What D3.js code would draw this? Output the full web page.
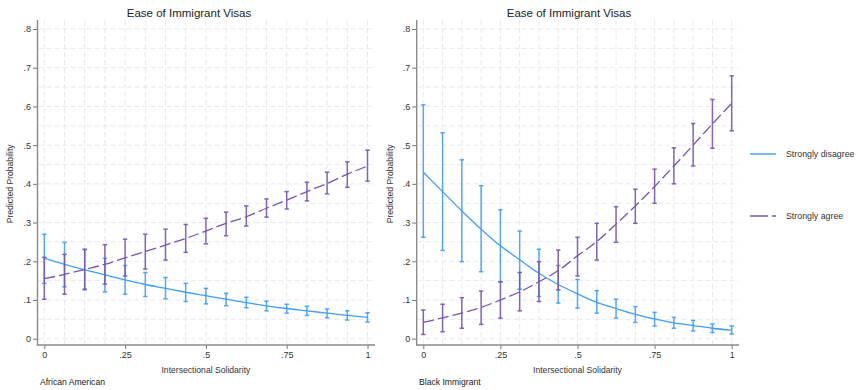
<!DOCTYPE html>
<html>
<head>
<meta charset="utf-8">
<script src="https://cdn.jsdelivr.net/npm/d3@7"></script>
<style>
  body { margin: 0; background: #fff; }
  svg { display: block; }
  text { font-family: "Liberation Sans", Arial, Helvetica, sans-serif; }
</style>
</head>
<body>
<svg id="chart" width="858" height="390"></svg>
<script>
// Evaluation points of intersectional solidarity
const solidarity = [0, 0.0625, 0.125, 0.1875, 0.25, 0.3125, 0.375, 0.4375, 0.5,
                    0.5625, 0.625, 0.6875, 0.75, 0.8125, 0.875, 0.9375, 1];

const xTicks = [0, 0.25, 0.5, 0.75, 1];
const xTickLabels = ["0", ".25", ".5", ".75", "1"];
const yTicks = [0, 0.1, 0.2, 0.3, 0.4, 0.5, 0.6, 0.7, 0.8];
const yTickLabels = ["0", ".1", ".2", ".3", ".4", ".5", ".6", ".7", ".8"];

const seriesNames = ["Strongly disagree", "Strongly agree"];
const groupNames = ["African American", "Black Immigrant"];
const chartTitle = "Ease of Immigrant Visas";
const xTitle = "Intersectional Solidarity";
const yTitle = "Predicted Probability";

// African American respondents
const aaDisagree   = [0.208, 0.192, 0.178, 0.165, 0.152, 0.140, 0.130, 0.120, 0.111, 0.102, 0.093, 0.085, 0.078, 0.072, 0.066, 0.060, 0.055];
const aaDisagreeLo = [0.143, 0.134, 0.126, 0.121, 0.115, 0.109, 0.103, 0.096, 0.090, 0.085, 0.080, 0.072, 0.066, 0.060, 0.054, 0.048, 0.043];
const aaDisagreeHi = [0.270, 0.249, 0.230, 0.208, 0.189, 0.171, 0.158, 0.143, 0.130, 0.117, 0.107, 0.097, 0.089, 0.084, 0.077, 0.072, 0.067];
const aaAgree      = [0.155, 0.166, 0.179, 0.192, 0.209, 0.225, 0.242, 0.259, 0.278, 0.298, 0.315, 0.337, 0.358, 0.380, 0.401, 0.425, 0.446];
const aaAgreeLo    = [0.102, 0.115, 0.128, 0.141, 0.162, 0.180, 0.203, 0.223, 0.245, 0.266, 0.291, 0.314, 0.335, 0.356, 0.374, 0.391, 0.407];
const aaAgreeHi    = [0.210, 0.218, 0.231, 0.243, 0.257, 0.270, 0.283, 0.295, 0.311, 0.327, 0.343, 0.361, 0.380, 0.404, 0.430, 0.457, 0.487];

// Black immigrant respondents
const biDisagree   = [0.430, 0.380, 0.330, 0.283, 0.240, 0.204, 0.169, 0.140, 0.116, 0.094, 0.078, 0.063, 0.051, 0.041, 0.034, 0.027, 0.022];
const biDisagreeLo = [0.262, 0.228, 0.199, 0.173, 0.147, 0.128, 0.109, 0.092, 0.079, 0.066, 0.053, 0.042, 0.033, 0.027, 0.020, 0.016, 0.012];
const biDisagreeHi = [0.604, 0.532, 0.462, 0.395, 0.333, 0.278, 0.231, 0.189, 0.153, 0.124, 0.102, 0.083, 0.068, 0.055, 0.047, 0.038, 0.033];
const biAgree      = [0.042, 0.054, 0.066, 0.081, 0.100, 0.121, 0.147, 0.176, 0.214, 0.251, 0.296, 0.343, 0.393, 0.446, 0.500, 0.555, 0.608];
const biAgreeLo    = [0.011, 0.018, 0.027, 0.037, 0.053, 0.072, 0.096, 0.126, 0.162, 0.203, 0.249, 0.298, 0.350, 0.400, 0.446, 0.492, 0.537];
const biAgreeHi    = [0.074, 0.089, 0.106, 0.123, 0.147, 0.171, 0.199, 0.229, 0.262, 0.298, 0.341, 0.386, 0.438, 0.493, 0.556, 0.618, 0.679];

const gridY = [0, 0.05, 0.1, 0.15, 0.2, 0.25, 0.3, 0.35, 0.4, 0.45, 0.5, 0.55, 0.6, 0.65, 0.7, 0.75, 0.8];

const colors = { disagree: "#3f9dff", agree: "#7655b0" };

function rows(est, lo, hi) {
  return solidarity.map((x, i) => ({ x, y: est[i], lo: lo[i], hi: hi[i] }));
}

const panels = [
  { group: groupNames[0], axisX: 37.5, x0: 44.3, x1: 367.5, right: 375, titleX: 189, yTitleX: 10, noteX: 40,
    series: [rows(aaDisagree, aaDisagreeLo, aaDisagreeHi), rows(aaAgree, aaAgreeLo, aaAgreeHi)] },
  { group: groupNames[1], axisX: 416.7, x0: 423.3, x1: 731.7, right: 739, titleX: 569, yTitleX: 390, noteX: 419,
    series: [rows(biDisagree, biDisagreeLo, biDisagreeHi), rows(biAgree, biAgreeLo, biAgreeHi)] }
];

const plotTop = 20, axisY = 345;
const y = d3.scaleLinear().domain([0, 0.8]).range([338.7, 29]);

const svg = d3.select("#chart");
svg.append("rect").attr("width", 858).attr("height", 390).attr("fill", "#fff");

panels.forEach(p => {
  const x = d3.scaleLinear().domain([0, 1]).range([p.x0, p.x1]);
  const g = svg.append("g");

  // dashed grid
  g.append("g").selectAll("line").data(gridY).join("line")
    .attr("x1", p.axisX + 1).attr("x2", p.right)
    .attr("y1", d => y(d)).attr("y2", d => y(d))
    .attr("stroke", "#e9e9e9").attr("stroke-width", 1).attr("stroke-dasharray", "5,3");
  g.append("g").selectAll("line").data(solidarity).join("line")
    .attr("x1", d => x(d)).attr("x2", d => x(d))
    .attr("y1", plotTop).attr("y2", axisY - 1)
    .attr("stroke", "#e9e9e9").attr("stroke-width", 1).attr("stroke-dasharray", "5,3");

  // axes
  const yAxis = d3.axisLeft(y).tickValues(yTicks).tickFormat((d, i) => yTickLabels[i])
    .tickSize(4.5).tickSizeOuter(0).tickPadding(2);
  const ya = g.append("g").attr("transform", `translate(${p.axisX},0)`).call(yAxis);
  ya.select(".domain").remove();
  ya.selectAll("line").attr("stroke", "#777").attr("stroke-width", 1);
  ya.selectAll("text").attr("font-size", 9).attr("fill", "#333").attr("font-family", null);

  const xAxis = d3.axisBottom(x).tickValues(xTicks).tickFormat((d, i) => xTickLabels[i])
    .tickSize(4).tickSizeOuter(0).tickPadding(3);
  const xa = g.append("g").attr("transform", `translate(0,${axisY})`).call(xAxis);
  xa.select(".domain").remove();
  xa.selectAll("line").attr("stroke", "#777").attr("stroke-width", 1);
  xa.selectAll("text").attr("font-size", 9).attr("fill", "#333").attr("font-family", null);

  g.append("line").attr("x1", p.axisX).attr("x2", p.axisX).attr("y1", plotTop).attr("y2", axisY + 0.6)
    .attr("stroke", "#8a8a8a").attr("stroke-width", 1.4);
  g.append("line").attr("x1", p.axisX - 0.6).attr("x2", p.right).attr("y1", axisY).attr("y2", axisY)
    .attr("stroke", "#8a8a8a").attr("stroke-width", 1.4);

  // series: confidence intervals with caps, then the line
  const keys = ["disagree", "agree"];
  p.series.forEach((data, si) => {
    const col = colors[keys[si]];
    const eb = g.append("g").attr("stroke", col).attr("stroke-width", 1.5).attr("stroke-opacity", 0.9);
    eb.selectAll(".v").data(data).join("line").attr("class", "v")
      .attr("x1", d => x(d.x)).attr("x2", d => x(d.x))
      .attr("y1", d => y(d.lo)).attr("y2", d => y(d.hi));
    eb.selectAll(".t").data(data).join("line").attr("class", "t")
      .attr("x1", d => x(d.x) - 2.2).attr("x2", d => x(d.x) + 2.2)
      .attr("y1", d => y(d.hi)).attr("y2", d => y(d.hi));
    eb.selectAll(".b").data(data).join("line").attr("class", "b")
      .attr("x1", d => x(d.x) - 2.2).attr("x2", d => x(d.x) + 2.2)
      .attr("y1", d => y(d.lo)).attr("y2", d => y(d.lo));

    const line = d3.line().x(d => x(d.x)).y(d => y(d.y)).curve(d3.curveMonotoneX);
    g.append("path").datum(data).attr("d", line).attr("fill", "none")
      .attr("stroke", col).attr("stroke-width", 1.3)
      .attr("stroke-dasharray", si === 1 ? "11,4" : null);
  });

  // texts
  g.append("text").attr("x", p.titleX).attr("y", 17).attr("text-anchor", "middle")
    .attr("font-size", 11.5).attr("fill", "#222").text(chartTitle);
  g.append("text").attr("x", (p.x0 + p.x1) / 2).attr("y", 373).attr("text-anchor", "middle")
    .attr("font-size", 8.6).attr("fill", "#333").text(xTitle);
  g.append("text").attr("transform", `translate(${p.yTitleX + 3},${(y(0) + y(0.8)) / 2}) rotate(-90)`)
    .attr("text-anchor", "middle").attr("font-size", 8.6).attr("fill", "#333").text(yTitle);
  g.append("text").attr("x", p.noteX).attr("y", 385).attr("font-size", 8.6).attr("fill", "#222").text(p.group);
});

// legend
const legend = svg.append("g");
const legendRows = [
  { name: seriesNames[0], col: colors.disagree, dash: null, y: 154 },
  { name: seriesNames[1], col: colors.agree, dash: "18,4", y: 216 }
];
legendRows.forEach(r => {
  legend.append("line").attr("x1", 750).attr("x2", 776).attr("y1", r.y).attr("y2", r.y)
    .attr("stroke", r.col).attr("stroke-width", 1.4).attr("stroke-dasharray", r.dash);
  legend.append("text").attr("x", 786).attr("y", r.y + 3).attr("font-size", 8.8)
    .attr("fill", "#333").text(r.name);
});
</script>
</body>
</html>
